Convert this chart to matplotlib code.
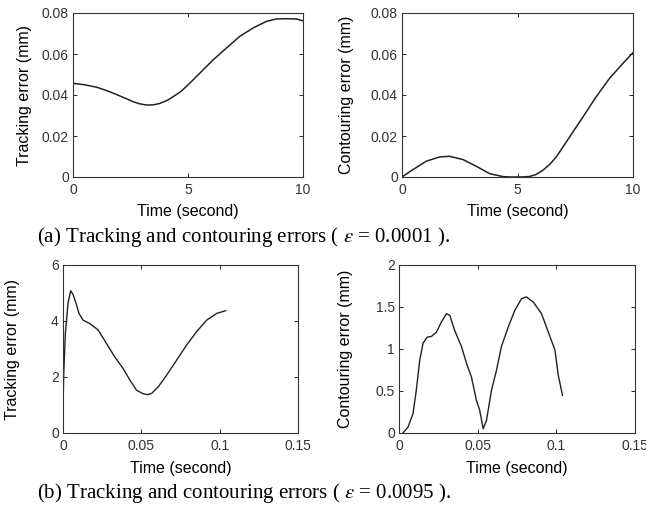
import matplotlib
matplotlib.use("Agg")
import matplotlib.pyplot as plt
import numpy as np

plt.rcParams['font.family'] = ['Liberation Sans', 'DejaVu Sans']
plt.rcParams['mathtext.fontset'] = 'stix'

# (a) eps = 0.0001
t_a_track = [0, 0.5, 1.03, 1.5, 1.9, 2.3, 2.62, 2.9, 3.2, 3.5, 3.78, 4.1, 4.36, 4.7, 5.0, 5.51, 6.09, 6.67, 7.25,
             7.83, 8.41, 8.84, 9.28, 9.71, 10]
e_a_track = [0.0457, 0.0450, 0.0438, 0.0420, 0.0402, 0.0383, 0.0367, 0.0357, 0.0351, 0.0352, 0.0359, 0.0374,
             0.0392, 0.0418, 0.0449, 0.0506, 0.0571, 0.0629, 0.0686, 0.0727, 0.0759, 0.0771, 0.0772, 0.0771, 0.0762]
t_a_cont = [0, 0.43, 1.05, 1.63, 2.06, 2.64, 3.22, 3.8, 4.37, 4.7, 5.1, 5.5, 5.8, 6.1, 6.4, 6.68, 7.26, 7.84,
            8.41, 8.99, 9.57, 10]
e_a_cont = [0, 0.0033, 0.0077, 0.0098, 0.0101, 0.0085, 0.0052, 0.0016, 0.0002, 0.0, 0.0, 0.0002, 0.0012, 0.0033,
            0.0062, 0.0098, 0.0196, 0.0294, 0.0392, 0.0482, 0.0555, 0.0607]

# (b) eps = 0.0095
t_b_track = [0, 0.0004, 0.0015, 0.0032, 0.0049, 0.0064, 0.0085, 0.0102, 0.0128, 0.0171, 0.0224, 0.0277, 0.033,
             0.0384, 0.0427, 0.0469, 0.0512, 0.0540, 0.0565, 0.0608, 0.0661, 0.0725, 0.0789, 0.0853, 0.0917,
             0.0981, 0.1039]
e_b_track = [0.69, 2.0, 3.56, 4.63, 5.08, 4.95, 4.6, 4.27, 4.03, 3.91, 3.68, 3.2, 2.72, 2.3, 1.89, 1.53, 1.40,
             1.37, 1.41, 1.65, 2.06, 2.6, 3.14, 3.62, 4.03, 4.27, 4.37]
t_b_cont = [0.0025, 0.0057, 0.0089, 0.011, 0.0132, 0.0153, 0.0178, 0.0206, 0.0238, 0.0269, 0.0301, 0.0323, 0.0354,
            0.0397, 0.0429, 0.046, 0.0492, 0.0513, 0.0535, 0.0556, 0.0588, 0.062, 0.0651, 0.0694, 0.0736, 0.0779,
            0.081, 0.0853, 0.0906, 0.0959, 0.0991, 0.1012, 0.1039]
e_b_cont = [0, 0.07, 0.23, 0.51, 0.87, 1.07, 1.14, 1.15, 1.2, 1.32, 1.42, 1.40, 1.22, 1.03, 0.83, 0.67, 0.39, 0.27,
            0.05, 0.15, 0.51, 0.75, 1.03, 1.26, 1.46, 1.6, 1.62, 1.56, 1.42, 1.15, 0.99, 0.69, 0.45]

W, H = 646, 513
fig = plt.figure(figsize=(W / 100, H / 100), dpi=100)


def make_ax(x0, y0, x1, y1):
    return fig.add_axes([x0 / W, 1 - y1 / H, (x1 - x0) / W, (y1 - y0) / H])


def style(ax, xlim, ylim, xticks, yticks, xlab, ylab, ylab_x, xlab_y):
    ax.set_xlim(*xlim)
    ax.set_ylim(*ylim)
    ax.set_xticks(xticks)
    ax.set_yticks(yticks)
    ax.set_xticklabels([('%g' % v) for v in xticks])
    ax.set_yticklabels([('%g' % v) for v in yticks])
    ax.tick_params(direction='in', top=True, right=True, length=3, width=0.6,
                   labelsize=10, labelcolor='#333333')
    ax.tick_params(axis='x', pad=4)
    ax.tick_params(axis='y', pad=3)
    for s in ax.spines.values():
        s.set_linewidth(0.8)
        s.set_color('#333333')
    ax.set_xlabel(xlab, fontsize=11.5)
    ax.set_ylabel(ylab, fontsize=11.5)
    ax.yaxis.set_label_coords(ylab_x, 0.5)
    ax.xaxis.set_label_coords(0.5, xlab_y)


ax1 = make_ax(73, 13, 303, 177)
ax1.plot(t_a_track, e_a_track, color='#222222', lw=1.1)
style(ax1, (0, 10), (0, 0.08), [0, 5, 10], [0, 0.02, 0.04, 0.06, 0.08],
      'Time (second)', 'Tracking error (mm)', -0.180, -0.162)

ax2 = make_ax(402, 13, 633, 177)
ax2.plot(t_a_cont, e_a_cont, color='#222222', lw=1.1)
style(ax2, (0, 10), (0, 0.08), [0, 5, 10], [0, 0.02, 0.04, 0.06, 0.08],
      'Time (second)', 'Contouring error (mm)', -0.206, -0.162)

ax3 = make_ax(63, 265, 298, 433)
ax3.plot(t_b_track, e_b_track, color='#222222', lw=1.0)
style(ax3, (0, 0.15), (0, 6), [0, 0.05, 0.1, 0.15], [0, 2, 4, 6],
      'Time (second)', 'Tracking error (mm)', -0.181, -0.164)

ax4 = make_ax(399, 265, 635, 433)
ax4.plot(t_b_cont, e_b_cont, color='#222222', lw=1.0)
style(ax4, (0, 0.15), (0, 2), [0, 0.05, 0.1, 0.15], [0, 0.5, 1, 1.5, 2],
      'Time (second)', 'Contouring error (mm)', -0.197, -0.164)

cap = dict(fontsize=15, family='Liberation Serif', ha='left', va='center')
fig.text(37 / W, 1 - 237 / H, r'(a) Tracking and contouring errors ( $\varepsilon$ = 0.0001 ).', **cap)
fig.text(37 / W, 1 - 493 / H, r'(b) Tracking and contouring errors ( $\varepsilon$ = 0.0095 ).', **cap)

fig.savefig('out.png', dpi=100)
